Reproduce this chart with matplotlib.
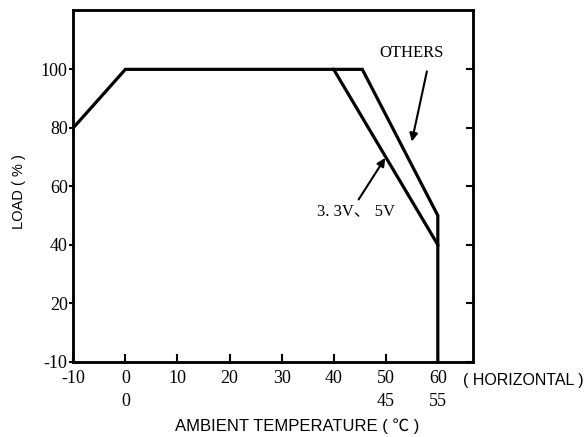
import matplotlib
matplotlib.use("Agg")
import matplotlib.pyplot as plt

# Data
low_v_temp = [-10, 0, 40, 60, 60]
low_v_load = [80, 100, 100, 40, 0]
others_temp = [40, 45.5, 60, 60]
others_load = [100, 100, 50, 40]

x_ticks = [-10, 0, 10, 20, 30, 40, 50, 60]
x_tick_labels = ["-10", "0\n0", "10", "20", "30", "40", "50\n45", "60\n55"]
y_ticks = [0, 20, 40, 60, 80, 100]
y_tick_labels = ["-10", "20", "40", "60", "80", "100"]

fig = plt.figure(figsize=(5.87, 4.37), dpi=100)
ax = fig.add_axes([73.3 / 587, 1 - 361.7 / 437, 399.4 / 587, 351.7 / 437])

lw = 2.3
ax.plot(low_v_temp, low_v_load, color="black", lw=lw, solid_joinstyle="miter", clip_on=False)
ax.plot(others_temp, others_load, color="black", lw=lw, solid_joinstyle="miter", clip_on=False)

ax.set_xlim(-10, 66.7)
ax.set_ylim(0, 120.3)

serif = ["Liberation Serif", "DejaVu Serif"]
sans = ["Liberation Sans", "Noto Sans CJK SC", "DejaVu Sans"]

ax.set_xticks(x_ticks)
ax.set_xticklabels(x_tick_labels, fontfamily=serif, fontsize=13, linespacing=1.45, va="top")
ax.set_yticks(y_ticks)
ax.set_yticklabels(y_tick_labels, fontfamily=serif, fontsize=13)

ax.tick_params(axis="x", direction="in", length=6, width=1.5, pad=6)
ax.tick_params(axis="y", direction="out", length=3, width=1.5, pad=1)

ax2 = ax.twinx()
ax2.set_ylim(ax.get_ylim())
ax2.set_yticks(y_ticks)
ax2.set_yticklabels([])
ax2.tick_params(axis="y", direction="in", length=5, width=1.5)

for a in (ax, ax2):
    for s in a.spines.values():
        s.set_linewidth(1.8)

ax.set_xlabel("AMBIENT TEMPERATURE ( ℃ )", fontfamily=sans, fontsize=12,
              x=(175 - 73.3) / 399.4, ha="left")
ax.xaxis.set_label_coords((175 - 73.3) / 399.4, (361.7 - 426) / 351.7)
ax.xaxis.label.set_va("center")
ax.set_ylabel("LOAD ( % )", fontfamily=sans, fontsize=10.5)
ax.yaxis.set_label_coords((19 - 73.3) / 399.4, (361.7 - 192) / 351.7)
ax.yaxis.label.set_va("center")

fig.text(463 / 587, 1 - 380 / 437, "( HORIZONTAL )", fontfamily=sans, fontsize=11.5,
         ha="left", va="center")

ax.text(55.0, 105.5, "OTHERS", fontfamily=serif, fontsize=12, ha="center", va="center")
ax.annotate("", xy=(55.0, 75.3), xytext=(57.9, 99.3),
            arrowprops=dict(arrowstyle="-|>", color="black", lw=1.5, mutation_scale=12,
                            shrinkA=0, shrinkB=0))
ax.text(44.3, 51.5, "3. 3V、 5V", fontfamily=["Liberation Serif", "Noto Sans CJK SC"], fontsize=12,
        ha="center", va="center")
ax.annotate("", xy=(49.9, 69.7), xytext=(44.8, 55.5),
            arrowprops=dict(arrowstyle="-|>", color="black", lw=1.5, mutation_scale=12,
                            shrinkA=0, shrinkB=0))

fig.savefig("out.png", dpi=100)
